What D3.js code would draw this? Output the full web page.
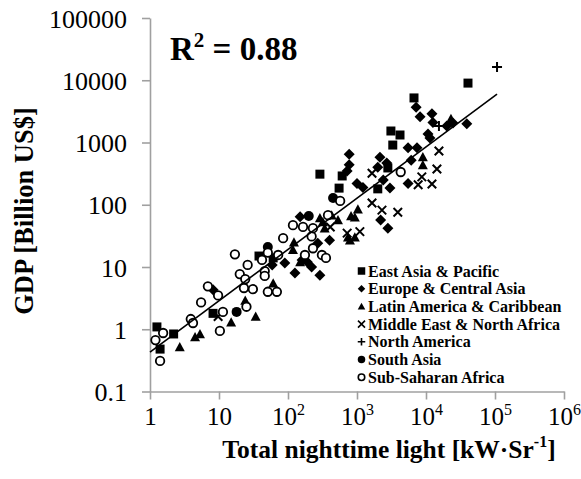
<!DOCTYPE html>
<html>
<head>
<meta charset="utf-8">
<script src="https://cdn.jsdelivr.net/npm/d3@7"></script>
<style>
  html, body { margin: 0; padding: 0; background: #fff; }
  svg { display: block; }
</style>
</head>
<body>
<svg id="chart" width="581" height="479" font-family="'Liberation Serif', 'Times New Roman', Times, serif"></svg>
<script>
// ---------------- DATA ----------------
// [total nighttime light (kW·Sr^-1), GDP (billion US$)]
const eastAsiaPacific = [
  [1.26,1.09],[1.4,0.48],[2.2,0.84],[8.2,1.8],[38,15],[61,14],[290,310],[610,290],
  [550,185],[2000,180],[2800,390],[3300,910],[3100,1530],[4200,1320],[6700,5200],[40600,9000]
];
const europeCentralAsia = [
  [7200,3700],[8200,2600],[12200,2900],[12600,2100],[20000,1840],[24600,2060],[39000,2000],
  [10700,1370],[11400,1180],[5500,820],[7400,820],[6100,520],[5500,220],[770,650],[770,440],
  [720,350],[1000,220],[1220,190],[2150,580],[2700,470],[2000,400],[2400,250],[3000,185],
  [2200,57],[2800,42],[150,64],[90,11.6],[126,8],[190,12],[220,10],[290,7.4],[160,13],
  [59,10.8],[8.2,4.3],[400,27],[270,24]
];
const latinAmericaCaribbean = [
  [2.7,0.52],[4.5,0.75],[5.3,0.84],[15,1.3],[24,2.9],[34,1.6],[61,5.5],[122,25],[118,19],
  [150,12],[320,53],[340,42],[290,61],[430,68],[530,57],[820,66],[930,63],[1030,85],
  [740,30],[930,30],[790,27],[9000,585],[9000,435],[23000,2400]
];
const middleEastNorthAfrica = [
  [9.7,1.6],[410,44],[720,35],[1100,37],[1650,107],[2300,82],[3900,76],[1650,320],
  [7700,210],[8700,280],[12200,215],[14400,375],[15400,730]
];
const northAmerica = [[107000,16300],[15400,1840]];
const southAsia = [[18,1.9],[51,21],[200,66],[450,128]];
const subSaharanAfrica = [
  [1.4,0.31],[1.2,0.67],[1.55,0.87],[3.9,1.46],[4.2,1.26],[5.5,2.7],[6.9,4.9],[9.7,3.5],
  [11.4,1.9],[10.3,0.94],[25,2.3],[20,7.7],[24,6.4],[23,4.6],[31,4.4],[17,16],[26,10.8],
  [46,8.6],[46,7.2],[42,13],[51,17],[51,4],[69,4],[72,15.6],[85,29],[118,47],[165,44],
  [176,15.6],[220,31],[230,20],[310,15.6],[355,14],[380,68],[570,115],[4300,336],[230,42]
];
// trend line end points (power fit, R² = 0.88)
const trendX = [1, 107000];
const trendY = [0.43, 6000];

const seriesNames = ["East Asia & Pacific","Europe & Central Asia","Latin America & Caribbean",
  "Middle East & North Africa","North America","South Asia","Sub-Saharan Africa"];
const seriesData = [eastAsiaPacific, europeCentralAsia, latinAmericaCaribbean,
  middleEastNorthAfrica, northAmerica, southAsia, subSaharanAfrica];

const xTickValues = [1,10,100,1000,10000,100000,1000000];
const xTickLabels = [["1",""],["10",""],["10","2"],["10","3"],["10","4"],["10","5"],["10","6"]];
const yTickValues = [0.1,1,10,100,1000,10000,100000];
const yTickLabels = ["0.1","1","10","100","1000","10000","100000"];

// ---------------- CHART ----------------
const FONT = "'Liberation Serif', 'Times New Roman', Times, serif";
const svg = d3.select("#chart");
const x = d3.scaleLog().domain([1,1e6]).range([150,564]);
const y = d3.scaleLog().domain([0.1,1e5]).range([391.5,18]);
const axisColor = "#a0a0a0";

// custom symbols (size = nominal width in px)
const sym = {
  square: { draw(c, s){ const h=s/2; c.rect(-h,-h,s,s); } },
  diamond:{ draw(c, s){ const h=s/2; c.moveTo(0,-h); c.lineTo(h,0); c.lineTo(0,h); c.lineTo(-h,0); c.closePath(); } },
  triangle:{ draw(c, s){ const h=s/2; c.moveTo(0,-h); c.lineTo(h,h*0.85); c.lineTo(-h,h*0.85); c.closePath(); } },
  times:  { draw(c, s){ const h=s/2; c.moveTo(-h,-h); c.lineTo(h,h); c.moveTo(h,-h); c.lineTo(-h,h); } },
  plus:   { draw(c, s){ const h=s/2; c.moveTo(-h,0); c.lineTo(h,0); c.moveTo(0,-h); c.lineTo(0,h); } },
  circle: { draw(c, s){ const r=s/2; c.moveTo(r,0); c.arc(0,0,r,0,2*Math.PI); } }
};
const styles = [
  {type: sym.square,   size: 9,    fill: "#000", stroke: "none", sw: 0,   lsize: 7.5},
  {type: sym.diamond,  size: 11,   fill: "#000", stroke: "none", sw: 0,   lsize: 7.5},
  {type: sym.triangle, size: 10,   fill: "#000", stroke: "none", sw: 0,   lsize: 7.5},
  {type: sym.times,    size: 8.5,  fill: "none", stroke: "#000", sw: 2,   lsize: 7},
  {type: sym.plus,     size: 10,   fill: "none", stroke: "#000", sw: 2,   lsize: 7.5},
  {type: sym.circle,   size: 10,   fill: "#000", stroke: "none", sw: 0,   lsize: 7.5},
  {type: sym.circle,   size: 8.5,  fill: "#fff", stroke: "#000", sw: 1.8, lsize: 6.5}
];

// axes
const yAxis = d3.axisLeft(y).tickValues(yTickValues).tickSize(8).tickSizeOuter(0)
  .tickFormat((d,i) => yTickLabels[i]);
const gy = svg.append("g").attr("transform","translate(150,0)").call(yAxis)
  .attr("font-family", FONT).attr("font-size", 26);
gy.select(".domain").attr("stroke", axisColor).attr("stroke-width",1.6);
gy.selectAll(".tick line").attr("stroke", axisColor).attr("stroke-width",1.6);
gy.selectAll(".tick text").attr("x",-23).attr("dy","0.35em").attr("fill","#000");

const xAxis = d3.axisBottom(x).tickValues(xTickValues).tickSize(8).tickSizeOuter(0).tickFormat("");
const gx = svg.append("g").attr("transform","translate(0,391.5)").call(xAxis)
  .attr("font-family", FONT).attr("font-size", 25);
gx.select(".domain").attr("stroke", axisColor).attr("stroke-width",1.6);
gx.selectAll(".tick line").attr("stroke", axisColor).attr("stroke-width",1.6);
gx.selectAll(".tick").each(function(d,i){
  const lab = xTickLabels[i];
  const t = d3.select(this).append("text").attr("y",33.5).attr("text-anchor","middle")
    .attr("font-family", FONT).attr("font-size", 25).attr("fill","#000");
  t.append("tspan").text(lab[0]);
  if (lab[1]) t.append("tspan").attr("dy",-10).attr("font-size",16).text(lab[1]);
});

// series
seriesData.forEach((data, k) => {
  const st = styles[k];
  const gen = d3.symbol().type(st.type).size(st.size);
  svg.append("g").selectAll("path").data(data).join("path")
    .attr("transform", d => `translate(${x(d[0])},${y(d[1])})`)
    .attr("d", gen)
    .attr("fill", st.fill).attr("stroke", st.stroke).attr("stroke-width", st.sw);
});

// trend line
svg.append("path")
  .datum(trendX.map((v,i) => [v, trendY[i]]))
  .attr("d", d3.line().x(d => x(d[0])).y(d => y(d[1])))
  .attr("stroke","#000").attr("stroke-width",1.6).attr("fill","none");

// R² label
const r2 = svg.append("text").attr("x",170).attr("y",60)
  .attr("font-family", FONT).attr("font-size",33).attr("font-weight","bold");
r2.append("tspan").text("R");
r2.append("tspan").attr("dy",-13).attr("font-size",21).text("2");
r2.append("tspan").attr("dy",13).text(" = 0.88");

// legend
const lg = svg.append("g");
seriesNames.forEach((name, k) => {
  const st = styles[k];
  const by = 276.5 + k*17.7;
  lg.append("path")
    .attr("transform", `translate(361.5,${by-5.5})`)
    .attr("d", d3.symbol().type(st.type).size(st.lsize)())
    .attr("fill", st.fill).attr("stroke", st.stroke).attr("stroke-width", st.sw ? Math.min(st.sw,1.6) : 0);
  lg.append("text").attr("x",368).attr("y",by)
    .attr("font-family", FONT).attr("font-size",16).attr("font-weight","bold").text(name);
});

// axis titles
const xt = svg.append("text").attr("x",389).attr("y",458).attr("text-anchor","middle")
  .attr("font-family", FONT).attr("font-size",25.5).attr("font-weight","bold");
xt.append("tspan").text("Total nighttime light [kW·Sr");
xt.append("tspan").attr("dy",-11).attr("font-size",16).text("-1");
xt.append("tspan").attr("dy",11).text("]");

svg.append("text").attr("transform","translate(33,211) rotate(-90)").attr("text-anchor","middle")
  .attr("font-family", FONT).attr("font-size",26.5).attr("font-weight","bold").text("GDP [Billion US$]");
</script>
</body>
</html>
